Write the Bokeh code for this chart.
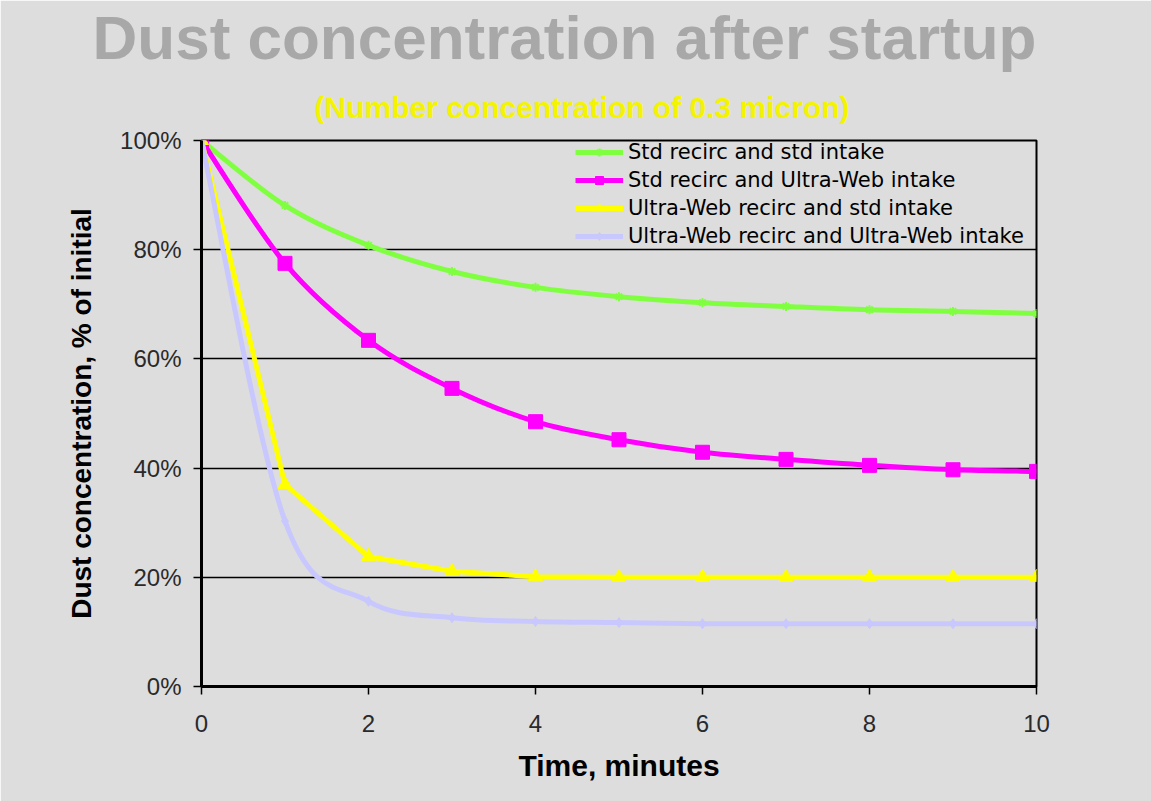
from bokeh.plotting import figure
from bokeh.models import Title, FixedTicker, PrintfTickFormatter, Legend, LegendItem
from bokeh.embed import file_html
from bokeh.resources import INLINE

# ---- data ----
minutes = [0, 1, 2, 3, 4, 5, 6, 7, 8, 9, 10]
std_std = [100, 88.1, 80.8, 76.0, 73.1, 71.4, 70.3, 69.6, 69.0, 68.7, 68.3]
std_uw = [100, 77.5, 63.4, 54.6, 48.5, 45.2, 42.9, 41.6, 40.5, 39.7, 39.4]
uw_std = [100, 37.0, 23.8, 21.1, 20.1, 20.0, 20.0, 20.0, 20.0, 20.0, 20.0]
uw_uw = [100, 30.3, 15.6, 12.6, 11.9, 11.7, 11.5, 11.5, 11.5, 11.5, 11.5]
names = ["Std recirc and std intake", "Std recirc and Ultra-Web intake",
         "Ultra-Web recirc and std intake", "Ultra-Web recirc and Ultra-Web intake"]
x_ticks = [0, 2, 4, 6, 8, 10]
y_ticks = [0, 20, 40, 60, 80, 100]

BG = "#dddddd"
W, H = 1151, 801
L, R, T, B = 201, 115, 140, 115


def smooth_segments(xs, ys):
    """Bezier control points for a smoothed (Excel-style) line through the points."""
    n = len(xs)
    seg = dict(x0=[], y0=[], x1=[], y1=[], cx0=[], cy0=[], cx1=[], cy1=[])
    for i in range(n - 1):
        a = max(i - 1, 0)
        b = min(i + 2, n - 1)
        seg["x0"].append(xs[i]); seg["y0"].append(ys[i])
        seg["x1"].append(xs[i + 1]); seg["y1"].append(ys[i + 1])
        seg["cx0"].append(xs[i] + (xs[i + 1] - xs[a]) / 6)
        seg["cy0"].append(ys[i] + (ys[i + 1] - ys[a]) / 6)
        seg["cx1"].append(xs[i + 1] - (xs[b] - xs[i]) / 6)
        seg["cy1"].append(ys[i + 1] - (ys[b] - ys[i]) / 6)
    return seg


p = figure(width=W, height=H, output_backend="svg", toolbar_location=None,
           x_range=(0, 10), y_range=(0, 100),
           min_border_left=L, min_border_right=R, min_border_top=T, min_border_bottom=B)
p.background_fill_color = BG
p.border_fill_color = BG
p.outline_line_color = "black"
p.outline_line_width = 2

p.xgrid.visible = False
p.ygrid.grid_line_color = "black"
p.ygrid.grid_line_width = 1.5
p.ygrid.ticker = FixedTicker(ticks=y_ticks)

p.xaxis.ticker = FixedTicker(ticks=x_ticks)
p.yaxis.ticker = FixedTicker(ticks=y_ticks)
p.yaxis.formatter = PrintfTickFormatter(format="%d%%")
for ax in (p.xaxis, p.yaxis):
    ax.axis_line_color = "black"
    ax.axis_line_width = 3
    ax.major_tick_line_color = "black"
    ax.major_tick_line_width = 1.5
    ax.major_tick_out = 8
    ax.major_tick_in = 0
    ax.minor_tick_line_color = None
    ax.major_label_text_font = "Liberation Sans"
    ax.major_label_text_font_size = "24px"
    ax.major_label_text_color = "#2a2a2a"
    ax.axis_label_text_font = "Liberation Sans"
    ax.axis_label_text_font_style = "bold"
    ax.axis_label_text_color = "black"
p.xaxis.major_label_standoff = 20
p.yaxis.major_label_standoff = 12
p.xaxis.axis_label = "Time, minutes"
p.xaxis.axis_label_text_font_size = "30px"
p.xaxis.axis_label_standoff = 14
p.yaxis.axis_label = "Dust concentration, % of initial"
p.yaxis.axis_label_text_font_size = "28px"
p.yaxis.axis_label_standoff = 20

items = []
g1 = p.bezier(line_color="#7fff3f", line_width=5, **smooth_segments(minutes, std_std))
m1 = p.scatter(minutes, std_std, marker="asterisk", size=9, line_color="#7fff3f", line_width=2)
items.append(LegendItem(label=names[0], renderers=[g1, m1]))
g2 = p.bezier(line_color="#ff00ff", line_width=5, **smooth_segments(minutes, std_uw))
m2 = p.scatter(minutes, std_uw, marker="square", size=14, fill_color="#ff00ff", line_color="#ff00ff")
items.append(LegendItem(label=names[1], renderers=[g2, m2]))
g3 = p.line(minutes, uw_std, line_color="#ffff00", line_width=5)
m3 = p.scatter(minutes, uw_std, marker="triangle", size=14, fill_color="#ffff00", line_color="#ffff00")
items.append(LegendItem(label=names[2], renderers=[g3, m3]))
g4 = p.bezier(line_color="#c8c8ff", line_width=5, **smooth_segments(minutes, uw_uw))
m4 = p.scatter(minutes, uw_uw, marker="diamond", size=10, fill_color="#c8c8ff", line_color="#c8c8ff")
items.append(LegendItem(label=names[3], renderers=[g4, m4]))

legend = Legend(items=items, location=(374, 438))
legend.background_fill_alpha = 0
legend.border_line_color = None
legend.label_text_font = "DejaVu Sans"
legend.label_text_font_size = "21px"
legend.label_text_color = "black"
legend.glyph_width = 48
legend.glyph_height = 20
legend.label_height = 20
legend.spacing = 4
legend.padding = 0
legend.margin = 0
legend.label_standoff = 5
p.add_layout(legend)

sub = Title(text="(Number concentration of 0.3 micron)", align="left", offset=113,
            text_font="Liberation Sans", text_font_style="bold",
            text_font_size="30px", text_color="#f4f400", standoff=34)
title = Title(text="Dust concentration after startup", align="left", offset=-109,
              text_font="Liberation Sans", text_font_style="bold",
              text_font_size="62px", text_color="#a8a8a8", standoff=0)
p.add_layout(sub, "above")
p.add_layout(title, "above")

open("out.html", "w").write(file_html(p, INLINE))
